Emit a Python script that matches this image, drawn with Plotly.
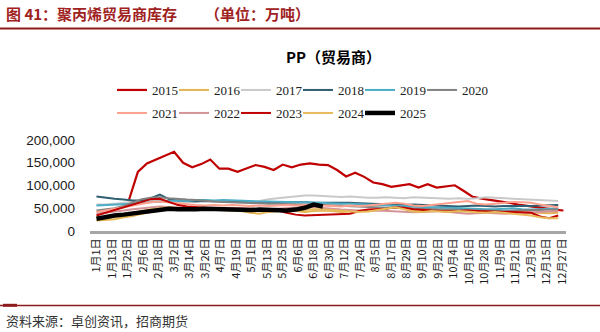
import plotly.graph_objects as go
import pandas as pd

# ---------------- data ----------------
tick_labels = ["1月1日", "1月13日", "1月25日", "2月6日", "2月18日", "3月2日", "3月14日",
               "3月26日", "4月7日", "4月19日", "5月1日", "5月13日", "5月25日", "6月6日",
               "6月18日", "6月30日", "7月12日", "7月24日", "8月5日", "8月17日", "8月29日",
               "9月10日", "9月22日", "10月4日", "10月16日", "10月28日", "11月9日", "11月21日",
               "12月3日", "12月15日", "12月27日"]

# weekly observation dates (mapped onto one common non-leap calendar year)
weeks = pd.date_range("2001-01-01", periods=52, freq="7D")
weeks_2015 = pd.date_range("2001-01-26", periods=49, freq="7D")

s2015 = [67000, 130000, 148500, 157000, 165000, 174000, 150000, 140000, 147000, 157000,
         137000, 137000, 130000, 137000, 145000, 141000, 134000, 146000, 140000, 146000,
         148500, 146000, 145000, 134000, 120000, 128000, 119000, 106500, 103000, 97000,
         100500, 103000, 95500, 103000, 95500, 98000, 100500, 88000, 75000, 71000,
         68000, 66000, 62000, 58000, 55000, 52000, 50000, 47000, 45000]
s2016 = [23000, 24000, 26000, 30000, 33000, 38000, 42000, 46000, 50000, 50000,
         48000, 47000, 48000, 47000, 46000, 45000, 44000, 40000, 38000, 42000,
         44000, 45000, 44000, 42000, 44000, 45000, 44000, 42000, 43000, 44000,
         46000, 48000, 50000, 52000, 50000, 46000, 45000, 47000, 46000, 44000,
         46000, 45000, 44000, 43000, 42000, 43000, 42000, 41000, 40000, 40000,
         39000, 40000]
s2017 = [58000, 58000, 60000, 62000, 64000, 66000, 68000, 68000, 66000, 65000,
         64000, 66000, 66000, 65000, 64000, 64000, 64000, 63000, 66000, 70000,
         72000, 74000, 76000, 78000, 78000, 77000, 76000, 75000, 76000, 74000,
         73000, 73000, 74000, 73000, 72000, 74000, 73000, 72000, 72000, 71000,
         72000, 71000, 72000, 74000, 73000, 72000, 71000, 70000, 69000, 68000,
         67000, 66000]
s2018 = [76000, 73000, 71000, 69000, 67000, 67000, 72000, 80000, 70000, 67000,
         66000, 65000, 66000, 66000, 66000, 65000, 64000, 64000, 64000, 63000,
         63000, 64000, 64000, 63000, 62000, 62000, 62000, 63000, 62000, 61000,
         60000, 59000, 58000, 57000, 57000, 58000, 57000, 56000, 55000, 54000,
         54000, 55000, 56000, 55000, 54000, 55000, 55000, 54000, 55000, 56000,
         57000, 57000]
s2019 = [56000, 57000, 58000, 58000, 60000, 62000, 63000, 64000, 66000, 67000,
         66000, 68000, 68000, 67000, 68000, 67000, 66000, 66000, 65000, 65000,
         64000, 64000, 63000, 63000, 62000, 62000, 61000, 60000, 60000, 59000,
         58000, 57000, 56000, 56000, 55000, 54000, 53000, 52000, 51000, 51000,
         50000, 50000, 49000, 48000, 48000, 49000, 50000, 48000, 47000, 48000,
         49000, 50000]
s2020 = [45000, 47000, 50000, 55000, 62000, 70000, 73000, 74000, 72000, 70000,
         69000, 68000, 66000, 65000, 64000, 63000, 62000, 62000, 61000, 60000,
         60000, 59000, 58000, 58000, 57000, 57000, 56000, 55000, 55000, 54000,
         53000, 52000, 51000, 51000, 50000, 50000, 49000, 48000, 47000, 47000,
         46000, 46000, 45000, 45000, 44000, 44000, 45000, 46000, 46000, 46000,
         47000, 48000]
s2021 = [42000, 45000, 48000, 52000, 56000, 60000, 63000, 65000, 63000, 60000,
         58000, 57000, 56000, 57000, 56000, 57000, 56000, 55000, 56000, 55000,
         56000, 57000, 56000, 57000, 58000, 56000, 55000, 54000, 56000, 55000,
         56000, 58000, 60000, 62000, 60000, 56000, 55000, 57000, 60000, 62000,
         64000, 66000, 60000, 58000, 60000, 62000, 64000, 63000, 62000, 58000,
         55000, 52000]
s2022 = [38000, 40000, 42000, 45000, 48000, 50000, 52000, 54000, 53000, 52000,
         50000, 50000, 49000, 50000, 49000, 48000, 49000, 48000, 47000, 48000,
         49000, 50000, 52000, 53000, 52000, 50000, 48000, 47000, 46000, 45000,
         44000, 45000, 44000, 43000, 42000, 41000, 42000, 43000, 44000, 42000,
         40000, 38000, 39000, 40000, 39000, 38000, 39000, 40000, 41000, 42000,
         43000, 44000]
s2023 = [34000, 40000, 46000, 52000, 58000, 64000, 70000, 71000, 64000, 57000,
         54000, 52000, 51000, 50000, 50000, 49000, 50000, 49000, 48000, 47000,
         45000, 40000, 36000, 34000, 35000, 36000, 37000, 38000, 38000, 44000,
         47000, 48000, 49000, 52000, 51000, 48000, 46000, 45000, 44000, 43000,
         44000, 45000, 44000, 43000, 42000, 42000, 42000, 41000, 40000, 32000,
         28000, 34000]
s2024 = [30000, 28000, 32000, 36000, 40000, 44000, 48000, 50000, 52000, 50000,
         49000, 50000, 50000, 48000, 49000, 47000, 48000, 47000, 46000, 45000,
         46000, 44000, 45000, 47000, 48000, 47000, 46000, 45000, 44000, 42000,
         43000, 46000, 50000, 52000, 48000, 43000, 42000, 44000, 43000, 42000,
         44000, 42000, 41000, 40000, 42000, 40000, 38000, 36000, 34000, 30000,
         28000, 28000]
s2025 = [27000, 31000, 34000, 36000, 39000, 42000, 45000, 48000, 49000, 48000,
         47000, 48000, 49000, 48000, 47000, 46000, 46000, 46000, 47000, 46000,
         46000, 45000, 47000, 51000, 58000, 54000]

y_ticks = [0, 50000, 100000, 150000, 200000]

# ---------------- styling ----------------
series = [
    ("2015", weeks_2015, s2015, "#C00000", 2.2, "legend"),
    ("2016", weeks, s2016, "#E4B452", 2, "legend"),
    ("2017", weeks, s2017, "#C9C9C9", 2, "legend"),
    ("2018", weeks, s2018, "#2F5E70", 2, "legend"),
    ("2019", weeks, s2019, "#4BACC6", 2, "legend"),
    ("2020", weeks, s2020, "#828282", 2, "legend"),
    ("2021", weeks, s2021, "#FFA18E", 2, "legend2"),
    ("2022", weeks, s2022, "#D49497", 2, "legend2"),
    ("2023", weeks, s2023, "#C00000", 2, "legend2"),
    ("2024", weeks, s2024, "#E8BA5C", 2, "legend2"),
    ("2025", weeks, s2025, "#000000", 4.5, "legend2"),
]

fig = go.Figure()
for name, xs, ys, color, width, lg in series:
    fig.add_trace(go.Scatter(
        x=list(xs[:len(ys)]), y=ys, name=name, mode="lines",
        line=dict(color=color, width=width), legend=lg,
    ))
# empty spacer entries so the last legend label in each row is not clipped
for lg in ("legend", "legend2"):
    fig.add_trace(go.Scatter(x=[None], y=[None], name=" ", mode="lines",
                             line=dict(color="rgba(0,0,0,0)", width=0), legend=lg,
                             hoverinfo="skip"))

def md_to_date(lbl):
    m, d = lbl.replace("日", "").split("月")
    return pd.Timestamp(2001, int(m), int(d))

tick_vals = [md_to_date(t) for t in tick_labels]

W, H = 600, 332
L, R, T, B = 90, 34, 140, 101
pw, ph = W - L - R, H - T - B

def px(x):
    return (x - L) / pw

def py(y):
    return (H - B - y) / ph

legend_common = dict(
    orientation="h", xref="container", yref="container", xanchor="left",
    yanchor="middle", font=dict(family="Liberation Serif", size=13, color="#222222"),
    entrywidth=17, entrywidthmode="pixels", bgcolor="rgba(0,0,0,0)",
    itemclick=False, tracegroupgap=0,
)

fig.update_layout(
    width=W, height=H,
    margin=dict(l=L, r=R, t=T, b=B),
    paper_bgcolor="white", plot_bgcolor="white",
    showlegend=True,
    legend=dict(x=112 / W, y=1 - 90 / H, **legend_common),
    legend2=dict(x=112 / W, y=1 - 113 / H, **legend_common),
    xaxis=dict(
        type="date", range=["2000-12-27", "2001-12-30"],
        tickvals=tick_vals, ticktext=tick_labels, tickangle=-90,
        tickfont=dict(family="Noto Sans CJK SC", size=11, color="#1A1A1A"),
        showgrid=False, zeroline=False, showline=True,
        linecolor="#A6A6A6", linewidth=3, ticks="", automargin=False,
    ),
    yaxis=dict(
        range=[0, 200000], tickvals=y_ticks, tickformat=",d",
        tickfont=dict(family="Liberation Sans", size=13.5, color="#1A1A1A"),
        showgrid=False, zeroline=False, showline=False, ticks="",
        ticklabelstandoff=14, automargin=False,
    ),
    font=dict(family="Liberation Sans"),
)

# report header / footer
fig.add_annotation(x=px(4), y=py(13), xref="paper", yref="paper", showarrow=False,
                   xanchor="left", yanchor="middle",
                   text="<b>图 41：聚丙烯贸易商库存</b>",
                   font=dict(family="Noto Sans CJK SC", size=15, color="#A0221E"))
fig.add_annotation(x=px(203), y=py(13), xref="paper", yref="paper", showarrow=False,
                   xanchor="left", yanchor="middle",
                   text="<b>（单位：万吨）</b>",
                   font=dict(family="Noto Sans CJK SC", size=15, color="#A0221E"))
fig.add_shape(type="line", xref="paper", yref="paper", x0=px(0), x1=px(600),
              y0=py(28.5), y1=py(28.5), line=dict(color="#8E1B1B", width=2))
fig.add_annotation(x=px(333), y=py(57), xref="paper", yref="paper", showarrow=False,
                   xanchor="center", yanchor="middle",
                   text="<b>PP（贸易商）</b>",
                   font=dict(family="Noto Sans CJK SC", size=15, color="#000000"))
fig.add_shape(type="line", xref="paper", yref="paper", x0=px(0), x1=px(600),
              y0=py(305.5), y1=py(305.5), line=dict(color="#8E1B1B", width=1.5))
fig.add_shape(type="line", xref="paper", yref="paper", x0=px(3), x1=px(17),
              y0=py(305.3), y1=py(305.3), line=dict(color="#8E1B1B", width=3))
fig.add_annotation(x=px(4), y=py(320), xref="paper", yref="paper", showarrow=False,
                   xanchor="left", yanchor="middle",
                   text="资料来源：卓创资讯，招商期货",
                   font=dict(family="Noto Sans CJK SC", size=13, color="#333333"))

fig.write_html("out.html")
